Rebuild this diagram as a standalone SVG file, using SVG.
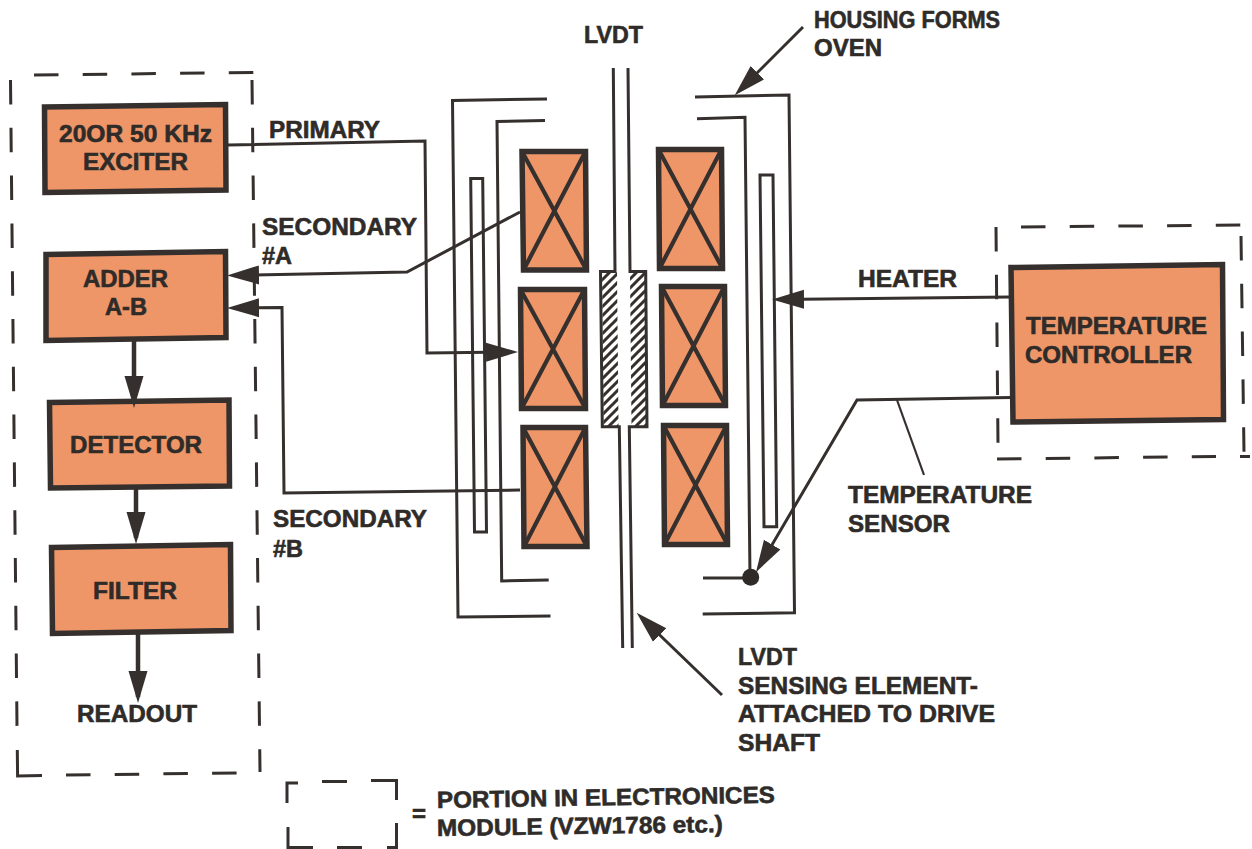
<svg xmlns="http://www.w3.org/2000/svg" width="1252" height="849" viewBox="0 0 1252 849">
<style>
.box{fill:#ee9668;stroke:#35302e;stroke-width:5.500;stroke-linejoin:miter}
.coil{fill:#ee9668;stroke:#35302e;stroke-width:5.500}
.x{fill:none;stroke:#35302e;stroke-width:4.200}
.ln{fill:none;stroke:#35302e;stroke-width:3;stroke-linejoin:miter}
.hv{fill:none;stroke:#35302e;stroke-width:4.500}
.th{fill:none;stroke:#35302e;stroke-width:2.200}
.d{fill:none;stroke:#35302e;stroke-width:3;stroke-dasharray:24.5 24.2}
.dv{fill:none;stroke:#35302e;stroke-width:3;stroke-dasharray:24.5 23.3}
.sd{fill:none;stroke:#35302e;stroke-width:3}
text{font-family:"Liberation Sans",Arial,sans-serif;font-weight:700;font-size:23.5px;fill:#2f2b29;stroke:#2f2b29;stroke-width:.6px}
</style>
<defs>
<marker id="ah" markerUnits="userSpaceOnUse" markerWidth="34" markerHeight="22" refX="26" refY="11" orient="auto"><path d="M0,1.500L32,11L0,20.500z" fill="#35302e"/></marker>
<pattern id="hatch" patternUnits="userSpaceOnUse" width="9" height="9"><rect width="9" height="9" fill="#fff"/><path d="M-2,2L2,-2M0,9L9,0M7,11L11,7" stroke="#35302e" stroke-width="3"/></pattern>
</defs>
<rect width="1252" height="849" fill="#fff"/>

<g id="electronics-boundary">
<path class="d" d="M34,75L255,72.5"/>
<path class="dv" d="M10.5,80L17,726"/>
<path class="dv" d="M252,80L260,772"/>
<path class="sd" d="M17.3,750L17.6,776L42,775.5"/>
<path class="d" d="M66,775L238,773"/>
</g>
<g id="controller-boundary">
<path class="d" d="M1021,227L1241,225"/>
<path class="dv" d="M996,227L998,444"/>
<path class="dv" d="M1241,236L1244,452"/>
<path class="d" d="M997,459L1216,456.5"/>
<path class="sd" d="M1240,456.5H1250"/>
</g>
<g id="legend-boundary">
<path class="sd" d="M287,803V783H298"/>
<path class="sd" d="M322,781.5H347"/>
<path class="sd" d="M371,780.5H396.500V800"/>
<path class="sd" d="M288,827V847.500H313M337,847.500H362M387,847.500H396.500V823"/>
</g>

<g id="housing">
<path class="ln" d="M547,99L452.500,100.500L458,617L550.500,616"/>
<path class="ln" d="M545,120.500L497,121.500L501.700,581L548.700,580"/>
<path class="ln" d="M474.500,532L470.700,178.500H482.700L486.500,532z"/>
<path class="ln" d="M695,97L789,95L794.500,612.700L702.700,614"/>
<path class="ln" d="M697,118.700L745,117.300L750,577M750,578L703,578"/>
<path class="ln" d="M764,526.700L760,175H773L776.700,526.700z"/>
</g>

<g id="shaft">
<path d="M602,272H617L618.500,426H603.500zM630,272H645L646.500,426H631.500z" fill="url(#hatch)"/>
<path class="ln" d="M613.300,68L615,271.500H600.500L602.300,426.700H619.300L622.700,648"/>
<path class="ln" d="M628,68L630,271.500H645.700L647,426.700H629.300L632.300,648"/>
</g>

<g id="coil-l1"><path class="coil" d="M522,151.500H585.500L586.500,270L523.500,270z"/><path class="x" d="M522,151.500L586.500,270M585.500,151.500L523.500,270"/></g>
<g id="coil-l2"><path class="coil" d="M520.500,289.500H584.500L585.500,408.500H521.500z"/><path class="x" d="M520.500,289.500L585.500,408.500M584.500,289.500L521.500,408.500"/></g>
<g id="coil-l3"><path class="coil" d="M523,427.500H585.500L587,546.500H524z"/><path class="x" d="M523,427.500L587,546.500M585.500,427.500L524,546.500"/></g>
<g id="coil-r1"><path class="coil" d="M658.500,149.500H721.500L722.500,268.500H659.500z"/><path class="x" d="M658.500,149.500L722.500,268.500M721.500,149.500L659.500,268.500"/></g>
<g id="coil-r2"><path class="coil" d="M661.500,286.500H724.500L725.500,405.500H662.500z"/><path class="x" d="M661.500,286.500L725.500,405.500M724.500,286.500L662.500,405.500"/></g>
<g id="coil-r3"><path class="coil" d="M663.500,425.500H726.500L727.500,544.500H664.500z"/><path class="x" d="M663.500,425.500L727.500,544.500M726.500,425.500L664.500,544.500"/></g>

<g id="exciter"><path class="box" d="M44.500,107L225.500,104.500L226,190L45,192.500z"/>
<text x="59" y="142" textLength="153" lengthAdjust="spacingAndGlyphs">20OR 50 KHz</text>
<text x="83" y="170" textLength="105" lengthAdjust="spacingAndGlyphs">EXCITER</text></g>
<g id="adder"><path class="box" d="M46,254.500L225.500,251.500L226,337.500L46,340.500z"/>
<text x="83" y="287" textLength="85" lengthAdjust="spacingAndGlyphs">ADDER</text>
<text x="105" y="315" textLength="42" lengthAdjust="spacingAndGlyphs">A-B</text></g>
<g id="detector"><path class="box" d="M49.500,402.500L229,400L229.500,486L50.500,488z"/>
<text x="70" y="453" textLength="132" lengthAdjust="spacingAndGlyphs">DETECTOR</text></g>
<g id="filter"><path class="box" d="M51.500,547.500L230.500,544.500L231,630.500L52.500,633.500z"/>
<text x="93" y="599" textLength="84" lengthAdjust="spacingAndGlyphs">FILTER</text></g>
<g id="temperature-controller"><path class="box" d="M1011,267.500L1222.500,264.500L1223.500,419.500L1013,422z"/>
<text x="1026" y="334" textLength="181" lengthAdjust="spacingAndGlyphs">TEMPERATURE</text>
<text x="1025" y="363" textLength="167" lengthAdjust="spacingAndGlyphs">CONTROLLER</text></g>

<g id="labels">
<text x="269" y="138" textLength="111" lengthAdjust="spacingAndGlyphs">PRIMARY</text>
<text x="262" y="235" textLength="155" lengthAdjust="spacingAndGlyphs">SECONDARY</text>
<text x="262" y="264" textLength="30" lengthAdjust="spacingAndGlyphs">#A</text>
<text x="273" y="527" textLength="154" lengthAdjust="spacingAndGlyphs">SECONDARY</text>
<text x="273" y="557" textLength="30" lengthAdjust="spacingAndGlyphs">#B</text>
<text x="77" y="722" textLength="120" lengthAdjust="spacingAndGlyphs">READOUT</text>
<text x="858" y="287" textLength="99" lengthAdjust="spacingAndGlyphs">HEATER</text>
<text x="848" y="503" textLength="184" lengthAdjust="spacingAndGlyphs">TEMPERATURE</text>
<text x="848" y="532" textLength="102" lengthAdjust="spacingAndGlyphs">SENSOR</text>
<text x="584" y="43" textLength="59" lengthAdjust="spacingAndGlyphs">LVDT</text>
<text x="814" y="28" textLength="186" lengthAdjust="spacingAndGlyphs">HOUSING FORMS</text>
<text x="814" y="56" textLength="68" lengthAdjust="spacingAndGlyphs">OVEN</text>
<text x="738" y="665" textLength="59" lengthAdjust="spacingAndGlyphs">LVDT</text>
<text x="738" y="694" textLength="240" lengthAdjust="spacingAndGlyphs">SENSING ELEMENT-</text>
<text x="738" y="722" textLength="257" lengthAdjust="spacingAndGlyphs">ATTACHED TO DRIVE</text>
<text x="738" y="751" textLength="82" lengthAdjust="spacingAndGlyphs">SHAFT</text>
<text x="412" y="822" textLength="14" lengthAdjust="spacingAndGlyphs">=</text>
<text transform="translate(437,808) rotate(-0.9)" textLength="338" lengthAdjust="spacingAndGlyphs">PORTION IN ELECTRONICES</text>
<text transform="translate(437,836) rotate(-0.8)" textLength="286" lengthAdjust="spacingAndGlyphs">MODULE (VZW1786 etc.)</text>
</g>

<g id="connectors">
<path class="ln" d="M228,145L425,141L427,353L512,352" marker-end="url(#ah)"/>
<path class="ln" d="M520,212L407,272L233,275.500" marker-end="url(#ah)"/>
<path class="ln" d="M520,490L284,493L282,307.500L233,308" marker-end="url(#ah)"/>
<path class="hv" d="M134,340V402" marker-end="url(#ah)"/>
<path class="hv" d="M136,488V538" marker-end="url(#ah)"/>
<path class="hv" d="M138,633V697" marker-end="url(#ah)"/>
<path class="ln" d="M1010,297L778,299.500" marker-end="url(#ah)"/>
<path class="ln" d="M1011,397.500L857,400L759,567" marker-end="url(#ah)"/>
<path class="th" d="M897,400L924,475"/>
<path class="ln" d="M803,27L739,91" marker-end="url(#ah)"/>
<path class="ln" d="M722,695L641,617" marker-end="url(#ah)"/>
<circle cx="750.700" cy="577.300" r="8.500" fill="#2f2b29"/>
</g>
</svg>
